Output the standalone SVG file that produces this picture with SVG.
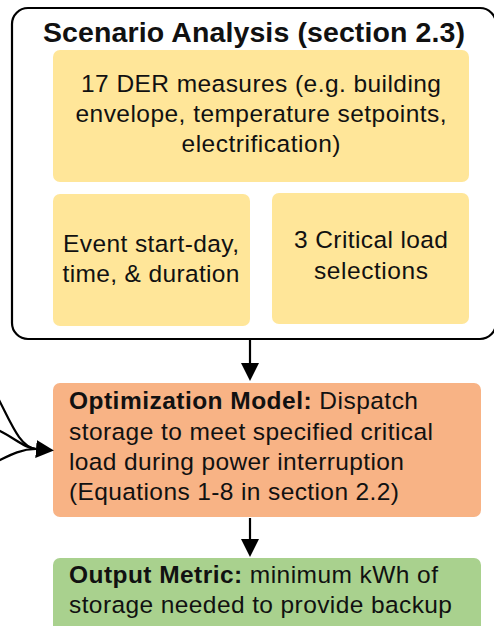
<svg xmlns="http://www.w3.org/2000/svg" width="494" height="626" viewBox="0 0 494 626">
<style>
.t{font-family:"Liberation Sans",Arial,sans-serif;font-size:24.5px;fill:#111}
.ttl{font-size:28.5px;font-weight:bold}
.c{text-anchor:middle}
.b{font-weight:bold}
.yel{fill:#FFE699}
.ora{fill:#F8B385}
.grn{fill:#A9D18E}
.con{stroke:#000;stroke-width:2.2;fill:none}
</style>
<defs>
<marker id="ah" viewBox="0 0 18 18" markerWidth="18" markerHeight="18" refX="0" refY="9" orient="auto" markerUnits="userSpaceOnUse">
<path d="M0,0 L18,9 L0,18 z" fill="#000"/>
</marker>
</defs>
<rect width="494" height="626" fill="#fff"/>
<g id="scenario-analysis">
<rect x="12" y="8" width="484" height="331" rx="16" fill="#fff" stroke="#000" stroke-width="2.2"/>
<text class="t ttl" x="43" y="42" textLength="422" lengthAdjust="spacing">Scenario Analysis (section 2.3)</text>
</g>
<g id="der-measures">
<rect class="yel" x="53" y="50" width="416" height="132" rx="7"/>
<text class="t c" x="261" y="92" textLength="360" lengthAdjust="spacing">17 DER measures (e.g. building</text>
<text class="t c" x="261" y="122" textLength="371" lengthAdjust="spacing">envelope, temperature setpoints,</text>
<text class="t c" x="261" y="152" textLength="159" lengthAdjust="spacing">electrification)</text>
</g>
<g id="event-timing">
<rect class="yel" x="53" y="194" width="197" height="132" rx="7"/>
<text class="t c" x="151" y="252" textLength="176" lengthAdjust="spacing">Event start-day,</text>
<text class="t c" x="151" y="282" textLength="177" lengthAdjust="spacing">time, &amp; duration</text>
</g>
<g id="critical-load">
<rect class="yel" x="272" y="193" width="197" height="131" rx="7"/>
<text class="t c" x="371" y="248" textLength="154" lengthAdjust="spacing">3 Critical load</text>
<text class="t c" x="371" y="279" textLength="114" lengthAdjust="spacing">selections</text>
</g>
<g id="optimization-model">
<rect class="ora" x="53" y="383" width="428" height="134" rx="7"/>
<text class="t" x="69" y="409" textLength="349" lengthAdjust="spacing"><tspan class="b">Optimization Model:</tspan> Dispatch</text>
<text class="t" x="69" y="440" textLength="364" lengthAdjust="spacing">storage to meet specified critical</text>
<text class="t" x="69" y="470" textLength="335" lengthAdjust="spacing">load during power interruption</text>
<text class="t" x="69" y="500" textLength="330" lengthAdjust="spacing">(Equations 1-8 in section 2.2)</text>
</g>
<g id="output-metric">
<rect class="grn" x="53" y="558" width="428" height="90" rx="7"/>
<text class="t" x="69" y="583" textLength="369" lengthAdjust="spacing"><tspan class="b">Output Metric:</tspan> minimum kWh of</text>
<text class="t" x="69" y="613" textLength="383" lengthAdjust="spacing">storage needed to provide backup</text>
</g>
<g id="connectors">
<line class="con" x1="250" y1="340" x2="250" y2="363" marker-end="url(#ah)"/>
<line class="con" x1="250" y1="518" x2="250" y2="539" marker-end="url(#ah)"/>
<path class="con" d="M-2,398 C12,425 20,447 36,449"/>
<path class="con" d="M-2,430 C15,438 24,448 36,449" marker-end="url(#ah)"/>
<path class="con" d="M-2,461 C12,454 22,449 36,449"/>
</g>
</svg>
